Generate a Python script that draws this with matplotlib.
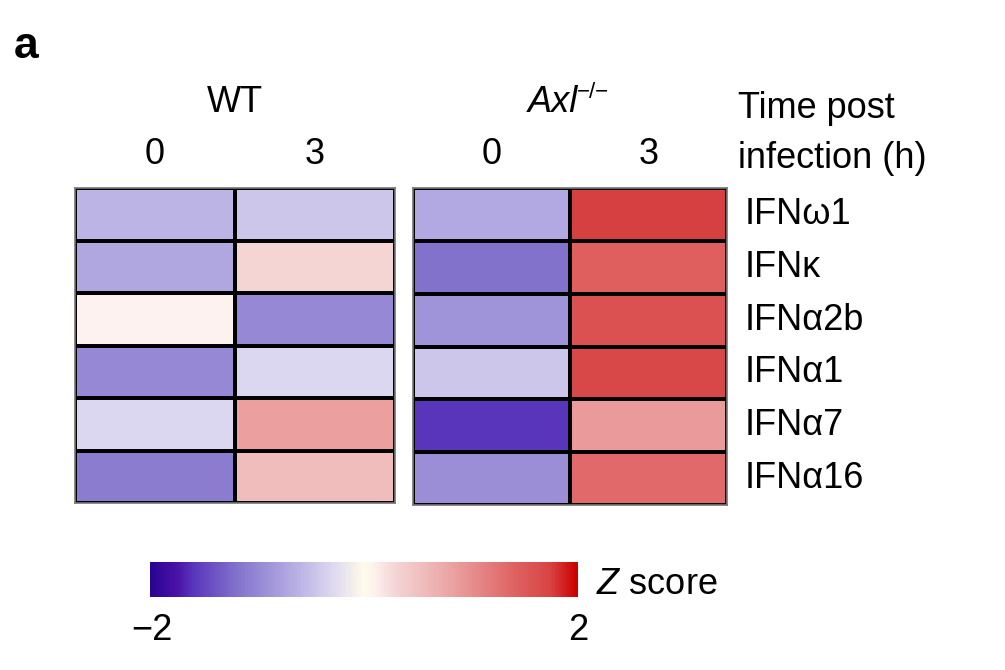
import matplotlib
matplotlib.use('Agg')
import matplotlib.pyplot as plt
import numpy as np
from matplotlib.colors import LinearSegmentedColormap, Normalize

plt.rcParams['font.family'] = ['Liberation Sans', 'DejaVu Sans']
plt.rcParams['mathtext.fontset'] = 'custom'
plt.rcParams['mathtext.rm'] = 'Liberation Sans'
plt.rcParams['mathtext.it'] = 'Liberation Sans:italic'

# data (z scores)
genes = ['IFNω1', 'IFNκ', 'IFNα2b', 'IFNα1', 'IFNα7', 'IFNα16']
times = ['0', '3']
wt_0 = [-0.6, -0.72, 0.08, -1.0, -0.3, -1.1]
wt_3 = [-0.45, 0.3, -1.0, -0.3, 0.85, 0.55]
axl_0 = [-0.7, -1.2, -0.9, -0.45, -1.6, -0.95]
axl_3 = [1.75, 1.45, 1.6, 1.7, 0.9, 1.35]

# colour map
nodes = [(0.0, '#2a0593'), (0.06, '#4a12a8'), (0.1, '#5a37bc'), (0.2, '#8272cc'),
         (0.35, '#bdb4e6'), (0.425, '#ddd8f0'), (0.5, '#fffbea'), (0.52, '#fdf3f0'),
         (0.575, '#f5d5d5'), (0.7125, '#eba0a0'), (0.85, '#e06464'), (0.9375, '#d84444'),
         (1.0, '#cc0000')]
cmap = LinearSegmentedColormap.from_list('z', nodes)
norm = Normalize(-2, 2)

fig = plt.figure(figsize=(10.05, 6.7), dpi=100)
W, H = 1005, 670
FS = 26

def px_axes(x0, y0, x1, y1):
    return fig.add_axes([x0 / W, 1 - y1 / H, (x1 - x0) / W, (y1 - y0) / H])

panels = [((75, 188, 395, 503), np.array([wt_0, wt_3]).T),
          ((413, 188, 727, 505), np.array([axl_0, axl_3]).T)]
for (x0, y0, x1, y1), vals in panels:
    ax = px_axes(x0, y0, x1, y1)
    ax.pcolormesh(vals, cmap=cmap, norm=norm, edgecolors='black', linewidth=1.6)
    ax.set_xlim(0, 2)
    ax.set_ylim(len(genes), 0)
    ax.set_xticks([])
    ax.set_yticks([])
    for s in ax.spines.values():
        s.set_color('#777777')
        s.set_linewidth(1.2)
    for j, t in enumerate(times):
        ax.text(j + 0.5, 1.0 + 34 / (y1 - y0), t, transform=ax.get_xaxis_transform(),
                ha='center', va='center', fontsize=FS)
    if x0 > 400:
        for i, g in enumerate(genes):
            ax.text(2 + 18 / ((x1 - x0) / 2), i + 0.5, g, ha='left', va='center', fontsize=FS)

fig.text(14 / W, 1 - 46 / H, 'a', fontsize=32, fontweight='bold', ha='left', va='center')
fig.text(235 / W, 1 - 103 / H, 'WT', fontsize=FS, ha='center', va='center')
fig.text(578 / W, 1 - 103 / H, 'Axl', fontsize=FS, style='italic', ha='right', va='center')
fig.text(577 / W, 1 - 92 / H, '\u2212/\u2212', fontsize=16, ha='left', va='center')
fig.text(738 / W, 1 - 108 / H, 'Time post', fontsize=FS, ha='left', va='center')
fig.text(738 / W, 1 - 158 / H, 'infection (h)', fontsize=FS, ha='left', va='center')

# colour bar
cax = px_axes(150, 562, 578, 597)
grad = np.linspace(-2, 2, 400)[None, :]
cax.imshow(grad, cmap=cmap, norm=norm, aspect='auto', extent=[-2, 2, 0, 1])
cax.set_xticks([])
cax.set_yticks([])
for s in cax.spines.values():
    s.set_visible(False)
fig.text(152 / W, 1 - 630 / H, '−2', fontsize=FS, ha='center', va='center')
fig.text(578 / W, 1 - 630 / H, '2', fontsize=FS, ha='center', va='center')
fig.text(596 / W, 1 - 585 / H, r'$Z$ score', fontsize=FS, ha='left', va='center')

fig.savefig('out.png', dpi=100)
